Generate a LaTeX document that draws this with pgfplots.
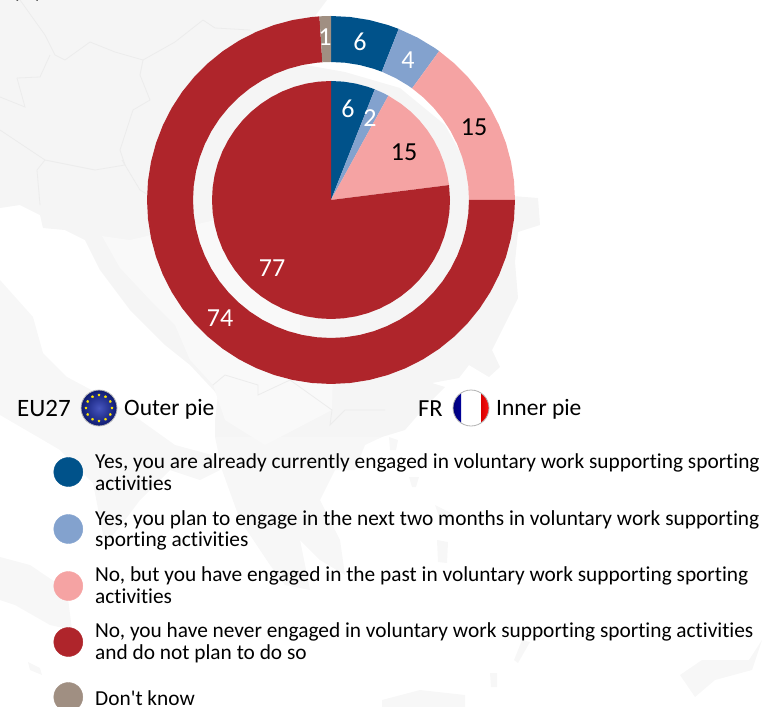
\documentclass[border=0pt]{standalone}
\usepackage{pgfplots}
\pgfplotsset{compat=1.18}
\usetikzlibrary{plotmarks}
\usepackage{fontspec}
\setmainfont{Carlito}
\newfontfamily\plainf{Carlito}[Ligatures=NoCommon]
\definecolor{cDB}{HTML}{00528A}
\definecolor{cLB}{HTML}{83A2CE}
\definecolor{cPK}{HTML}{F5A3A3}
\definecolor{cRD}{HTML}{AF252B}
\definecolor{cGY}{HTML}{A08F82}
\definecolor{land}{HTML}{F5F5F5}
\definecolor{landM}{HTML}{F7F7F7}
\definecolor{landL}{HTML}{F9F9F9}
\definecolor{bord}{HTML}{ECECEC}
\definecolor{euC}{HTML}{4655BE}
\definecolor{euO}{HTML}{0E1A70}
\pgfplotsset{
  pix/.style={at={(0pt,0pt)},anchor=south west,scale only axis,width=764pt,height=707pt,hide axis,
    xmin=0,xmax=764,ymin=0,ymax=707,y dir=reverse,clip=false},
  lnd/.style={fill=land,draw=none,forget plot},
  lndm/.style={fill=landM,draw=none,forget plot},
  brd/.style={draw=bord,line width=0.8pt,forget plot,no markers},
}
\newcommand{\legl}[2]{\node[anchor=base west,inner sep=0pt,font=\plainf\fontsize{21.35}{23}\selectfont] at (axis cs:#1) {#2};}
\newcommand{\val}[3]{\node[inner sep=0pt,text=#3,font=\plainf\fontsize{26}{28}\selectfont] at (axis cs:#1) {#2};}
\begin{document}
\begin{tikzpicture}[x=1pt,y=1pt]
\path[use as bounding box] (0pt,0pt) rectangle (764pt,707pt);
% background map
\begin{axis}[pix]
\addplot[lnd] coordinates {(0,0)(327,0)(312,20)(300,64)(345,72)(400,88)(445,125)(470,170)(512,196)(538,198)(540,225)(518,232)(515,262)(518,298)(492,350)(500,367)(489,377)(469,365)(459,378)(432,383)(445,387)(425,407)(405,430)(382,437)(300,437)(215,437)(215,420)(218,395)(190,365)(165,345)(130,310)(100,270)(85,240)(65,230)(43,228)(40,215)(20,205)(0,208)} --cycle;
\addplot[lndm] coordinates {(382,437)(365,445)(355,470)(335,470)(320,500)(340,540)(345,575)(320,560)(300,540)(310,590)(285,585)(270,565)(240,520)(222,470)(215,437)} --cycle;
\addplot[fill=landL,draw=none,forget plot] coordinates {(130,240)(102,236)(120,268)(150,300)(175,325)(190,360)(213,385)(225,420)(265,445)(332,410)(333,370)(300,340)(300,200)} --cycle;
\addplot[lndm] coordinates {(0,280)(33,317)(43,353)(67,377)(97,393)(140,420)(175,445)(212,455)(220,470)(200,480)(170,470)(140,500)(125,520)(105,545)(93,483)(60,450)(43,440)(0,415)} --cycle;
\addplot[lndm] coordinates {(0,557)(30,565)(67,590)(72,630)(50,625)(15,605)(0,600)} --cycle;
\addplot[lndm] coordinates {(680,675)(702,660)(749,660)(762,640)(752,670)(715,680)(695,697)} --cycle;
\addplot[lndm] coordinates {(382,700)(420,690)(465,695)(465,707)(382,707)} --cycle;
\addplot[lndm] coordinates {(437,540)(448,542)(447,563)(438,562)} --cycle;
\addplot[lndm] coordinates {(490,673)(497,673)(497,687)(491,687)} --cycle;
\addplot[lndm] coordinates {(522,640)(530,642)(518,663)(514,660)} --cycle;
\addplot[lndm] coordinates {(435,505)(455,515)(440,520)} --cycle;
\addplot[lndm] coordinates {(389,437)(398,440)(396,450)(390,450)} --cycle;
\addplot[lndm] coordinates {(409,477)(419,477)(416,487)(412,487)} --cycle;
\addplot[lndm] coordinates {(28,662)(40,668)(42,675)(30,670)} --cycle;
\addplot[brd] coordinates {(20,0)(45,35)(55,55)(65,60)(90,42)(115,52)(143,60)(175,42)(203,20)(215,28)(250,30)};
\addplot[brd] coordinates {(143,60)(140,75)(150,100)(133,110)(120,150)(125,165)(95,170)(70,165)(45,160)(15,140)(0,130)};
\addplot[brd] coordinates {(17,78)(40,77)(50,55)};
\addplot[brd] coordinates {(17,78)(25,107)(0,97)};
\addplot[brd] coordinates {(45,160)(37,170)(40,205)};
\addplot[brd] coordinates {(122,160)(140,190)(165,205)};
\addplot[brd] coordinates {(213,385)(225,375)(258,385)(258,395)(290,380)(332,410)(330,425)(345,410)(385,410)};
\end{axis}
% the two pies, centre at the origin
\begin{axis}[at={(0pt,0pt)},anchor=south west,scale only axis,width=764pt,height=707pt,hide axis,
  xmin=-331,xmax=433,ymin=-507,ymax=200,clip=false]
% outer pie: EU27 6, 4, 15, 74, 1
\addplot[fill=cDB,draw=none,data cs=polar,forget plot] coordinates {(90,184)(84,184)(78,184)(72,184)(68.4,184)(68.4,138)(72,138)(78,138)(84,138)(90,138)} --cycle;
\addplot[fill=cLB,draw=none,data cs=polar,forget plot] coordinates {(68.4,184)(62,184)(56,184)(54,184)(54,138)(56,138)(62,138)(68.4,138)} --cycle;
\addplot[fill=cPK,draw=none,data cs=polar,forget plot] coordinates {(54,184)(48,184)(42,184)(36,184)(30,184)(24,184)(18,184)(12,184)(6,184)(0,184)(0,138)(6,138)(12,138)(18,138)(24,138)(30,138)(36,138)(42,138)(48,138)(54,138)} --cycle;
\addplot[fill=cRD,draw=none,data cs=polar,forget plot] coordinates {(0,184)(-6,184)(-12,184)(-18,184)(-24,184)(-30,184)(-36,184)(-42,184)(-48,184)(-54,184)(-60,184)(-66,184)(-72,184)(-78,184)(-84,184)(-90,184)(-96,184)(-102,184)(-108,184)(-114,184)(-120,184)(-126,184)(-132,184)(-138,184)(-144,184)(-150,184)(-156,184)(-162,184)(-168,184)(-174,184)(-180,184)(-186,184)(-192,184)(-198,184)(-204,184)(-210,184)(-216,184)(-222,184)(-228,184)(-234,184)(-240,184)(-246,184)(-252,184)(-258,184)(-264,184)(-266.4,184)(-266.4,138)(-264,138)(-258,138)(-252,138)(-246,138)(-240,138)(-234,138)(-228,138)(-222,138)(-216,138)(-210,138)(-204,138)(-198,138)(-192,138)(-186,138)(-180,138)(-174,138)(-168,138)(-162,138)(-156,138)(-150,138)(-144,138)(-138,138)(-132,138)(-126,138)(-120,138)(-114,138)(-108,138)(-102,138)(-96,138)(-90,138)(-84,138)(-78,138)(-72,138)(-66,138)(-60,138)(-54,138)(-48,138)(-42,138)(-36,138)(-30,138)(-24,138)(-18,138)(-12,138)(-6,138)(0,138)} --cycle;
\addplot[fill=cGY,draw=none,data cs=polar,forget plot] coordinates {(-266.4,184)(-268,184)(-270,184)(-270,138)(-268,138)(-266.4,138)} --cycle;
% inner pie: FR 6, 2, 15, 77
\addplot[fill=cDB,draw=none,data cs=polar,forget plot] coordinates {(0,0)(90,119)(84,119)(78,119)(72,119)(68.4,119)} --cycle;
\addplot[fill=cLB,draw=none,data cs=polar,forget plot] coordinates {(0,0)(68.4,119)(64,119)(61.2,119)} --cycle;
\addplot[fill=cPK,draw=none,data cs=polar,forget plot] coordinates {(0,0)(61.2,119)(54,119)(48,119)(42,119)(36,119)(30,119)(24,119)(18,119)(12,119)(7.2,119)} --cycle;
\addplot[fill=cRD,draw=none,data cs=polar,forget plot] coordinates {(0,0)(7.2,119)(0,119)(-6,119)(-12,119)(-18,119)(-24,119)(-30,119)(-36,119)(-42,119)(-48,119)(-54,119)(-60,119)(-66,119)(-72,119)(-78,119)(-84,119)(-90,119)(-96,119)(-102,119)(-108,119)(-114,119)(-120,119)(-126,119)(-132,119)(-138,119)(-144,119)(-150,119)(-156,119)(-162,119)(-168,119)(-174,119)(-180,119)(-186,119)(-192,119)(-198,119)(-204,119)(-210,119)(-216,119)(-222,119)(-228,119)(-234,119)(-240,119)(-246,119)(-252,119)(-258,119)(-264,119)(-270,119)} --cycle;
\end{axis}
% labels, flags, legend
\begin{axis}[pix]
\val{360,42}{6}{white}
\val{325,37}{1}{white}
\val{408,60}{4}{white}
\val{474,127}{15}{black}
\val{348,109}{6}{white}
\val{370,118}{2}{white}
\val{404,152}{15}{black}
\val{272,268}{77}{white}
\val{220,318}{74}{white}
\node[anchor=base west,inner sep=0pt,font=\fontsize{26}{28}\selectfont\bfseries] at (axis cs:12,-3) {(b)};
\node[anchor=base west,inner sep=0pt,font=\plainf\fontsize{25}{27}\selectfont] at (axis cs:17,416) {EU27};
\node[anchor=base west,inner sep=0pt,font=\plainf\fontsize{24.5}{27}\selectfont] at (axis cs:418,416) {FR};
\node[anchor=base west,inner sep=0pt,font=\plainf\fontsize{23.5}{26}\selectfont] at (axis cs:124,415) {Outer pie};
\node[anchor=base west,inner sep=0pt,font=\plainf\fontsize{23.5}{26}\selectfont] at (axis cs:496,415) {Inner pie};
% EU flag
\fill[draw=black!25,line width=0.8pt,inner color=euC,outer color=euO] (axis cs:99,408) circle (18pt);
\addplot[only marks,mark=pentagon*,mark size=1.1pt,color=yellow!90!orange,forget plot] coordinates {(99,395)(105.5,396.7)(110.3,401.5)(112,408)(110.3,414.5)(105.5,419.3)(99,421)(92.5,419.3)(87.7,414.5)(86,408)(87.7,401.5)(92.5,396.7)};
% FR flag
\begin{scope}
\clip (axis cs:471,408) circle (18pt);
\fill[white] (axis cs:450,388) rectangle (axis cs:492,428);
\shade[left color=blue!45!black,right color=blue!60!black] (axis cs:452,388) rectangle (axis cs:461,428);
\shade[left color=red!85!black,right color=red!90] (axis cs:481,388) rectangle (axis cs:490,428);
\end{scope}
\draw[black!30,line width=0.8pt] (axis cs:471,408) circle (18pt);
% legend markers
\addplot[only marks,mark=*,mark size=14.5pt,color=cDB,forget plot] coordinates {(68.3,472)};
\addplot[only marks,mark=*,mark size=14.5pt,color=cLB,forget plot] coordinates {(68.3,529)};
\addplot[only marks,mark=*,mark size=14.5pt,color=cPK,forget plot] coordinates {(68.3,586)};
\addplot[only marks,mark=*,mark size=14.5pt,color=cRD,forget plot] coordinates {(68.3,642)};
\addplot[only marks,mark=*,mark size=14.5pt,color=cGY,forget plot] coordinates {(68.3,697)};
\legl{95,468}{Yes, you are already currently engaged in voluntary work supporting sporting}
\legl{95,490}{activities}
\legl{95,525}{Yes, you plan to engage in the next two months in voluntary work supporting}
\legl{95,546}{sporting activities}
\legl{95,581}{No, but you have engaged in the past in voluntary work supporting sporting}
\legl{95,603}{activities}
\legl{95,637}{No, you have never engaged in voluntary work supporting sporting activities}
\legl{95,659}{and do not plan to do so}
\legl{95,705}{Don't know}
\end{axis}
\end{tikzpicture}
\end{document}
